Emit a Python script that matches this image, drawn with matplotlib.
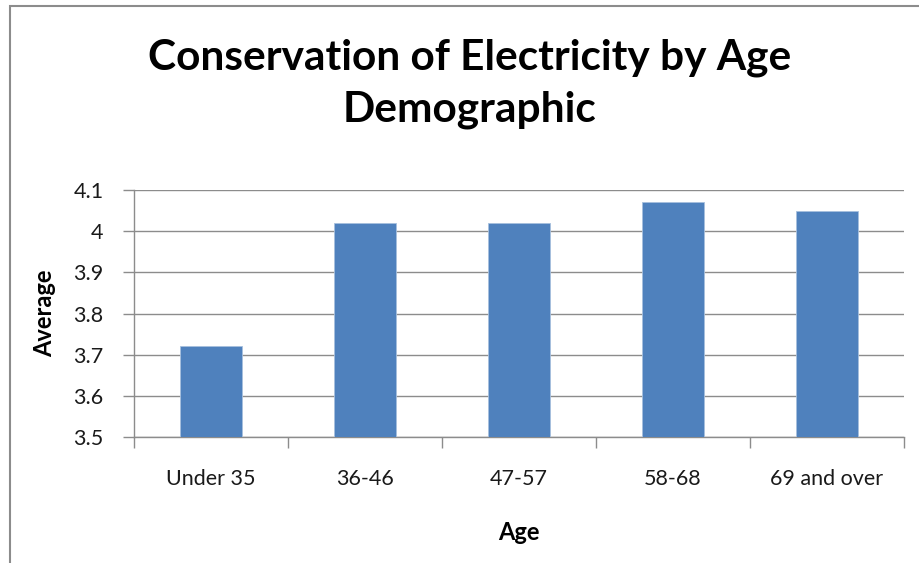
import matplotlib
matplotlib.use('Agg')
import matplotlib.pyplot as plt
from matplotlib.patches import Rectangle

age_groups = ['Under 35', '36-46', '47-57', '58-68', '69 and over']
averages = [3.72, 4.02, 4.02, 4.07, 4.05]
y_ticks = [3.5, 3.6, 3.7, 3.8, 3.9, 4.0, 4.1]
y_labels = ['3.5', '3.6', '3.7', '3.8', '3.9', '4', '4.1']

plt.rcParams['font.family'] = ['Lato', 'DejaVu Sans']

W, H = 919, 563
fig = plt.figure(figsize=(W / 100, H / 100), dpi=100)

# chart area border
fig.patches.append(Rectangle((10 / W, -0.1), 1.2, 1 - 6 / H + 0.1,
                             transform=fig.transFigure, fill=False,
                             edgecolor='#8c8c8c', linewidth=1.5))

ax = fig.add_axes([134 / W, 1 - 437 / H, (904 - 134) / W, (437 - 190) / H])

x = range(len(age_groups))
ax.bar(x, averages, width=0.4, color='#4f81bd', edgecolor='#a7c0de',
       linewidth=0.6, zorder=3)

ax.set_ylim(3.5, 4.1)
ax.set_xlim(-0.5, len(age_groups) - 0.5)
ax.set_yticks(y_ticks)
ax.set_yticklabels(y_labels)
ax.set_xticks(list(x))
ax.set_xticklabels(age_groups)
ax.set_xticks([i - 0.5 for i in range(len(age_groups) + 1)], minor=True)

ax.grid(axis='y', color='#8c8c8c', linewidth=1.0, zorder=0)
for side in ('top', 'right'):
    ax.spines[side].set_visible(False)
for side in ('left', 'bottom'):
    ax.spines[side].set_color('#8c8c8c')
    ax.spines[side].set_linewidth(1.0)

ax.tick_params(axis='y', length=8, width=1, color='#8c8c8c',
               labelsize=15.5, pad=14, labelcolor='#1a1a1a')
ax.tick_params(axis='x', which='major', length=0, labelsize=15.5, pad=23,
               labelcolor='#1a1a1a')
ax.tick_params(axis='x', which='minor', length=8, width=1, color='#8c8c8c')

ax.set_xlabel('Age', fontsize=17, fontweight='bold', labelpad=23)
ax.set_ylabel('Average', fontsize=17, fontweight='bold', labelpad=12)

title_lines = ['Conservation of Electricity by Age', 'Demographic']
for line, ypix in zip(title_lines, [58, 110]):
    fig.text(470 / W, 1 - ypix / H, line, ha='center', va='center',
             fontsize=30.5, fontweight='bold')

fig.savefig('out.png', dpi=100)
